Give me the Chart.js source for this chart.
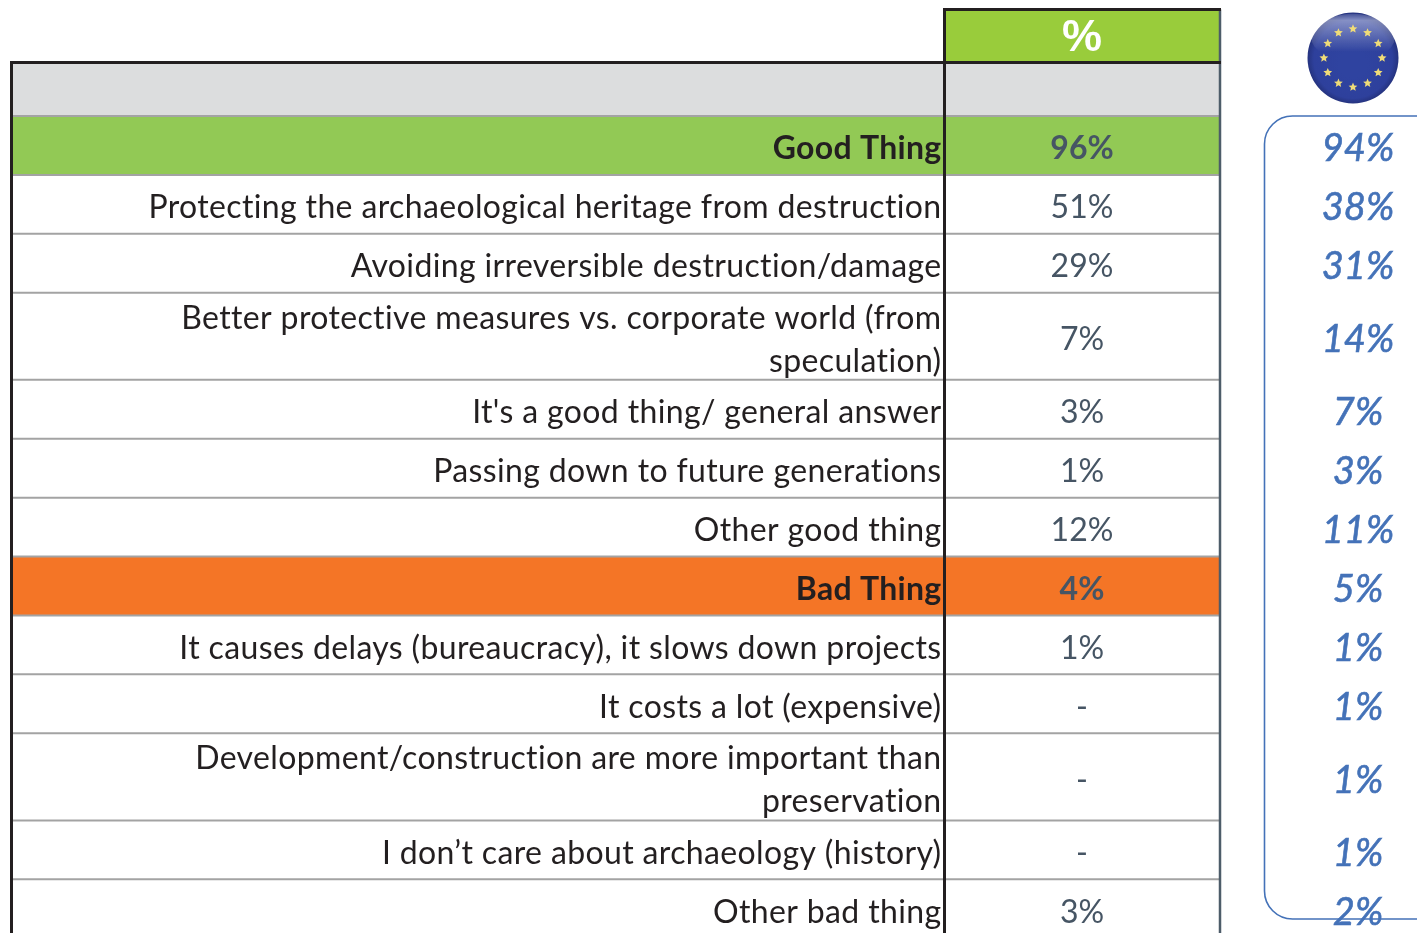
<!DOCTYPE html>
<html>
<head>
<meta charset="utf-8">
<style>
  html, body { margin: 0; padding: 0; background: #fff; overflow: hidden; }
  canvas { display: block; }
</style>
<script src="https://cdn.jsdelivr.net/npm/chart.js@4"></script>
</head>
<body>
<canvas id="tableChart" width="1417" height="933"></canvas>
<script>
// Chart values
const categories = [
    ["Good Thing"],
    ["Protecting the archaeological heritage from destruction"],
    ["Avoiding irreversible destruction/damage"],
    ["Better protective measures vs. corporate world (from", "speculation)"],
    ["It's a good thing/ general answer"],
    ["Passing down to future generations"],
    ["Other good thing"],
    ["Bad Thing"],
    ["It causes delays (bureaucracy), it slows down projects"],
    ["It costs a lot (expensive)"],
    ["Development/construction are more important than", "preservation"],
    ["I don\u2019t care about archaeology (history)"],
    ["Other bad thing"]
];
const countryValues = [96, 51, 29, 7, 3, 1, 12, 4, 1, null, null, null, 3];
const euValues = [94, 38, 31, 14, 7, 3, 11, 5, 1, 1, 1, 1, 2];
const headerLabel = "%";

// Row heights in row units (1 = one normal row), wrapped rows are taller
const rowSpans = [1, 1, 1, 1.48, 1, 1, 1, 1, 1, 1, 1.48, 1, 1];
const rowFills = { 0: "#92c955", 7: "#f47526" };

// Layout on the two axes
const PAGE_W = 1417, PAGE_H = 933, ROW_PX = 58.9;
const TABLE_TOP = 9.5 / ROW_PX, HEAD_SPAN = 53 / ROW_PX, GREY_SPAN = 53.5 / ROW_PX;
const COL_LEFT = 12, COL_SPLIT = 944.5, COL_RIGHT = 1220;
const COL_VALUE = 1082, COL_EU = 1358;
const FONT = "Lato, Carlito, sans-serif";
const TEXT_DROP = 3.5;

// Row edges on the y axis
const firstRow = TABLE_TOP + HEAD_SPAN + GREY_SPAN;
const rowEdges = [firstRow];
rowSpans.forEach(s => rowEdges.push(rowEdges[rowEdges.length - 1] + s));
const rowCentre = i => (rowEdges[i] + rowEdges[i + 1]) / 2;

function fmt(v) {
    return v === null ? "-" : v + "%";
}

function drawEuFlag(ctx, cx, cy, r) {
    ctx.save();
    ctx.filter = "blur(0.6px)";
    const grad = ctx.createRadialGradient(cx, cy + 6, r * 0.3, cx, cy, r);
    grad.addColorStop(0, "#2f43a0");
    grad.addColorStop(0.8, "#2e409c");
    grad.addColorStop(1, "#25337f");
    ctx.beginPath();
    ctx.arc(cx, cy, r, 0, Math.PI * 2);
    ctx.fillStyle = grad;
    ctx.fill();

    // gloss on the top half
    const gloss = ctx.createLinearGradient(0, cy - r, 0, cy - 6);
    gloss.addColorStop(0, "rgba(255,255,255,0.08)");
    gloss.addColorStop(0.2, "rgba(255,255,255,0.42)");
    gloss.addColorStop(1, "rgba(255,255,255,0)");
    ctx.beginPath();
    ctx.ellipse(cx, cy - r * 0.45, r * 0.92, r * 0.52, 0, 0, Math.PI * 2);
    ctx.fillStyle = gloss;
    ctx.fill();

    // ring of 12 stars
    ctx.fillStyle = "#f0dc78";
    for (let i = 0; i < 12; i++) {
        const a = i * Math.PI / 6;
        const sx = cx + Math.sin(a) * r * 0.64;
        const sy = cy - Math.cos(a) * r * 0.64;
        ctx.beginPath();
        for (let k = 0; k < 10; k++) {
            const rad = k % 2 ? 2.1 : 4.6;
            const b = k * Math.PI / 5;
            ctx.lineTo(sx + Math.sin(b) * rad, sy - Math.cos(b) * rad);
        }
        ctx.closePath();
        ctx.fill();
    }
    ctx.restore();
}

// Draws the table cells, using the chart's own scales
const tablePlugin = {
    id: "tablePlugin",
    beforeDatasetsDraw(chart) {
        const { ctx, scales: { x, y } } = chart;
        const left = x.getPixelForValue(COL_LEFT);
        const split = x.getPixelForValue(COL_SPLIT);
        const right = x.getPixelForValue(COL_RIGHT);
        const headTop = y.getPixelForValue(TABLE_TOP);
        const headBottom = y.getPixelForValue(TABLE_TOP + HEAD_SPAN);
        const greyBottom = y.getPixelForValue(firstRow);
        const bottom = y.getPixelForValue(rowEdges[rowEdges.length - 1]);

        ctx.save();
        // header and grey band
        ctx.fillStyle = "#99cc3b";
        ctx.fillRect(split, headTop, right - split, headBottom - headTop);
        ctx.fillStyle = "#dcddde";
        ctx.fillRect(left, headBottom, right - left, greyBottom - headBottom);

        // coloured rows
        categories.forEach((c, i) => {
            if (rowFills[i]) {
                const t = y.getPixelForValue(rowEdges[i]);
                const b = y.getPixelForValue(rowEdges[i + 1]);
                ctx.fillStyle = rowFills[i];
                ctx.fillRect(left, t, right - left, b - t);
            }
        });

        // row lines
        ctx.strokeStyle = "#a3a3a3";
        ctx.lineWidth = 2;
        rowEdges.forEach(e => {
            const p = y.getPixelForValue(e);
            ctx.beginPath();
            ctx.moveTo(left, p);
            ctx.lineTo(right, p);
            ctx.stroke();
        });

        // heavy borders
        ctx.strokeStyle = "#4d5c69";
        ctx.lineWidth = 2.5;
        ctx.beginPath();
        ctx.moveTo(right, headTop);
        ctx.lineTo(right, bottom);
        ctx.stroke();

        ctx.strokeStyle = "#231f20";
        ctx.lineWidth = 3;
        ctx.beginPath();
        ctx.moveTo(split, headTop);
        ctx.lineTo(split, bottom);
        ctx.moveTo(split - 1.5, headTop);
        ctx.lineTo(right + 1, headTop);
        ctx.moveTo(left - 2, headBottom);
        ctx.lineTo(right + 1, headBottom);
        ctx.moveTo(left - 0.5, headBottom);
        ctx.lineTo(left - 0.5, bottom);
        ctx.stroke();

        // EU bracket
        ctx.strokeStyle = "#4472b8";
        ctx.lineWidth = 1.6;
        ctx.beginPath();
        ctx.roundRect(1264.5, y.getPixelForValue(firstRow), 180, 803, 28);
        ctx.stroke();

        drawEuFlag(ctx, 1353, 58, 45.5);

        // row labels
        ctx.textAlign = "right";
        ctx.textBaseline = "middle";
        categories.forEach((lines, i) => {
            const bold = i in rowFills;
            ctx.font = (bold ? "bold " : "") + "32px " + FONT;
            ctx.letterSpacing = bold ? "0.3px" : "0.36px";
            ctx.fillStyle = "#231f20";
            const cy = y.getPixelForValue(rowCentre(i)) + TEXT_DROP;
            lines.forEach((line, k) => {
                const offset = (k - (lines.length - 1) / 2) * 43;
                ctx.fillText(line, split - 3, cy + offset);
            });
        });
        ctx.letterSpacing = "0px";

        // header label
        ctx.textAlign = "center";
        ctx.font = "bold 45px 'Liberation Sans', sans-serif";
        ctx.fillStyle = "#ffffff";
        ctx.fillText(headerLabel, x.getPixelForValue(COL_VALUE), (headTop + headBottom) / 2 + 3);
        ctx.restore();
    },
    afterDatasetsDraw(chart) {
        const { ctx } = chart;
        ctx.save();
        ctx.textAlign = "center";
        ctx.textBaseline = "middle";
        // value labels sit on the points of the two datasets
        chart.getDatasetMeta(0).data.forEach((pt, i) => {
            ctx.font = (i in rowFills ? "bold " : "") + "32px " + FONT;
            ctx.fillStyle = "#465564";
            ctx.fillText(fmt(countryValues[i]), pt.x, pt.y + TEXT_DROP);
        });
        chart.getDatasetMeta(1).data.forEach((pt, i) => {
            ctx.font = "italic 38px " + FONT;
            ctx.fillStyle = "#4472b8";
            ctx.strokeStyle = "#4472b8";
            ctx.lineWidth = 0.6;
            ctx.fillText(fmt(euValues[i]), pt.x, pt.y + TEXT_DROP);
            ctx.strokeText(fmt(euValues[i]), pt.x, pt.y + TEXT_DROP);
        });
        ctx.restore();
    }
};

new Chart(document.getElementById("tableChart"), {
    type: "scatter",
    data: {
        datasets: [
            {
                label: headerLabel,
                data: countryValues.map((v, i) => ({ x: COL_VALUE, y: rowCentre(i) })),
                pointRadius: 0
            },
            {
                label: "EU",
                data: euValues.map((v, i) => ({ x: COL_EU, y: rowCentre(i) })),
                pointRadius: 0
            }
        ]
    },
    options: {
        responsive: false,
        animation: false,
        layout: { padding: 0 },
        plugins: { legend: { display: false }, tooltip: { enabled: false } },
        scales: {
            x: { display: false, min: 0, max: PAGE_W },
            y: { display: false, reverse: true, min: 0, max: PAGE_H / ROW_PX }
        }
    },
    plugins: [tablePlugin]
});
</script>
</body>
</html>
